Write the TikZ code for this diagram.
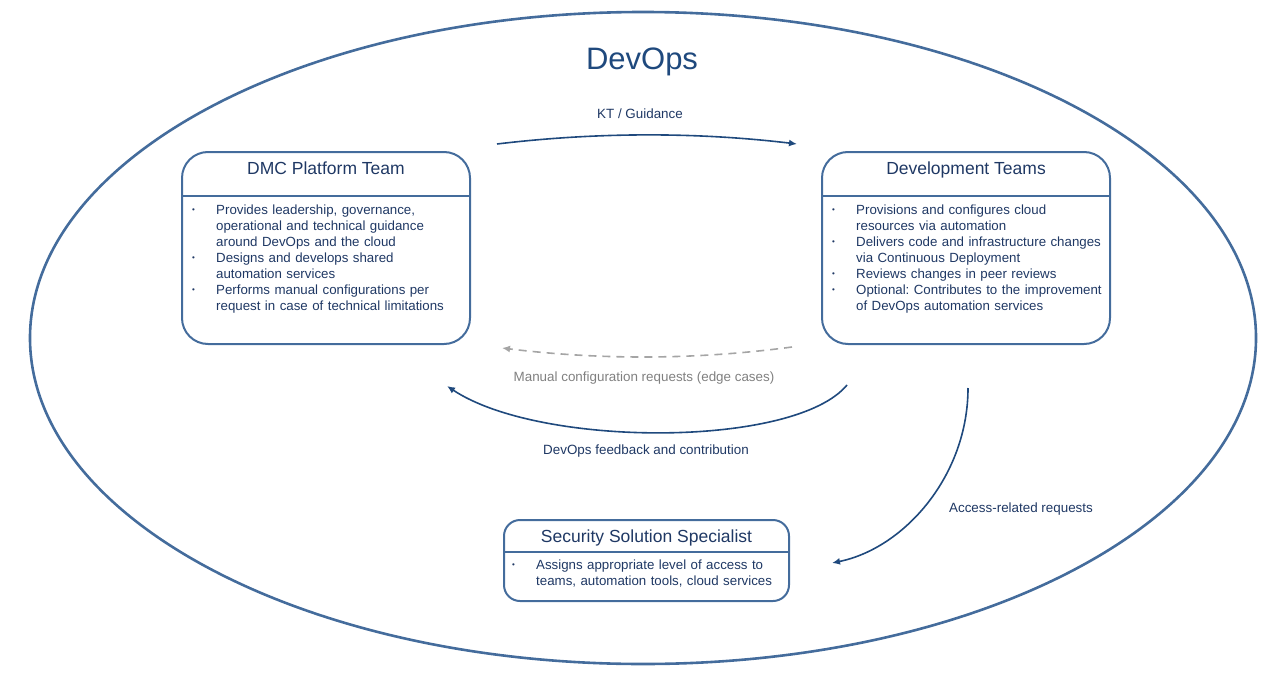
\documentclass[tikz,border=0pt]{standalone}
\usepackage{fontspec}
\setmainfont{Liberation Sans}
\usetikzlibrary{arrows.meta, positioning}
\usepackage{xcolor}

\definecolor{frameblue}{RGB}{68,108,156}
\definecolor{navy}{RGB}{31,56,100}
\definecolor{titleblue}{RGB}{31,73,125}
\definecolor{reqgray}{RGB}{165,165,165}
\definecolor{labelgray}{RGB}{128,128,128}

% bullet list used inside the team boxes
\newcommand{\teamlist}[1]{%
  \begin{list}{\raisebox{1.5pt}{\footnotesize\textbullet}}{%
    \setlength{\leftmargin}{24pt}\setlength{\labelwidth}{24pt}%
    \setlength{\labelsep}{0pt}\setlength{\itemsep}{0pt}%
    \setlength{\parsep}{0pt}\setlength{\topsep}{0pt}%
    \setlength{\partopsep}{0pt}%
    \renewcommand{\makelabel}[1]{##1\hfil}}\frenchspacing#1\end{list}}

\begin{document}
\begin{tikzpicture}[x=1pt, y=-1pt,
    teambox/.style={draw=frameblue, line width=2pt, rounded corners=26pt,
        minimum width=288pt, minimum height=192pt},
    teamtitle/.style={anchor=base, text=navy, font=\fontsize{17.5}{21}\selectfont},
    teambody/.style={anchor=north west, inner sep=0pt, text width=285pt,
        align=left, text=navy, font=\fontsize{13.3}{16}\selectfont},
    flow/.style={-{Latex[length=8pt,width=7pt]}, line width=1.6pt, draw=titleblue},
    note/.style={text=navy, font=\fontsize{13.4}{16}\selectfont}]
        \useasboundingbox (0,0) rectangle (1273,685);

        % Outer DevOps ellipse
        \draw[frameblue, line width=2.6pt] (643,338) ellipse [x radius=613, y radius=326];
        \node[text=titleblue, font=\fontsize{31}{37}\selectfont] (devops) at (642,62) {DevOps};

        % DMC Platform Team
        \node[teambox] (dmc) at (326,248) {};
        \node[teamtitle] (dmc-title) at (326,174) {DMC Platform Team};
        \draw[frameblue, line width=2pt] (dmc.west |- 0,196) -- (dmc.east |- 0,196);
        \node[teambody] (dmc-body) at (192,198) {\teamlist{%
            \item Provides leadership, governance,\\ operational and technical guidance\\ around DevOps and the cloud
            \item Designs and develops shared\\ automation services
            \item Performs manual configurations per\\ request in case of technical limitations}};

        % Development Teams
        \node[teambox] (dev) at (966,248) {};
        \node[teamtitle] (dev-title) at (966,174) {Development Teams};
        \draw[frameblue, line width=2pt] (dev.west |- 0,196) -- (dev.east |- 0,196);
        \node[teambody] (dev-body) at (832,198) {\teamlist{%
            \item Provisions and configures cloud\\ resources via automation
            \item Delivers code and infrastructure changes\\ via Continuous Deployment
            \item Reviews changes in peer reviews
            \item Optional: Contributes to the improvement\\ of DevOps automation services}};

        % Security Solution Specialist
        \node[teambox, rounded corners=16pt, minimum width=285pt, minimum height=81pt] (sec) at (646.5,560.5) {};
        \node[teamtitle] (sec-title) at (646.5,542) {Security Solution Specialist};
        \draw[frameblue, line width=2pt] (sec.west |- 0,552) -- (sec.east |- 0,552);
        \node[teambody] (sec-body) at (512,553) {\teamlist{%
            \item Assigns appropriate level of access to\\ teams, automation tools, cloud services}};

        % Connector end points
        \coordinate (kt-from) at (497,144);
        \coordinate (kt-to) at (797,144);
        \coordinate (man-from) at (792,347);
        \coordinate (man-to) at (502,348);
        \coordinate (fb-from) at (847,385);
        \coordinate (fb-to) at (447,386);
        \coordinate (acc-from) at (968,388);
        \coordinate (acc-to) at (832,563);

        % KT / Guidance
        \draw[flow] (kt-from) .. controls (597,132) and (697,132) .. (kt-to);
        \node[note] (kt-label) at (640,114) {KT / Guidance};

        % Manual configuration requests
        \draw[-{Latex[length=8pt,width=7pt]}, line width=1.6pt, draw=reqgray, dash pattern=on 8pt off 6pt]
            (man-from) .. controls (695,360) and (600,360) .. (man-to);
        \node[note, text=labelgray] (man-label) at (644,378) {Manual configuration requests (edge cases)};

        % DevOps feedback and contribution
        \draw[flow] (fb-from) .. controls (795,448) and (540,448) .. (fb-to);
        \node[note] (fb-label) at (646,451) {DevOps feedback and contribution};

        % Access-related requests
        \draw[flow] (acc-from) .. controls (968,475) and (905,548) .. (acc-to);
        \node[note] (acc-label) at (1021,509) {Access-related requests};

    \end{tikzpicture}
\end{document}
